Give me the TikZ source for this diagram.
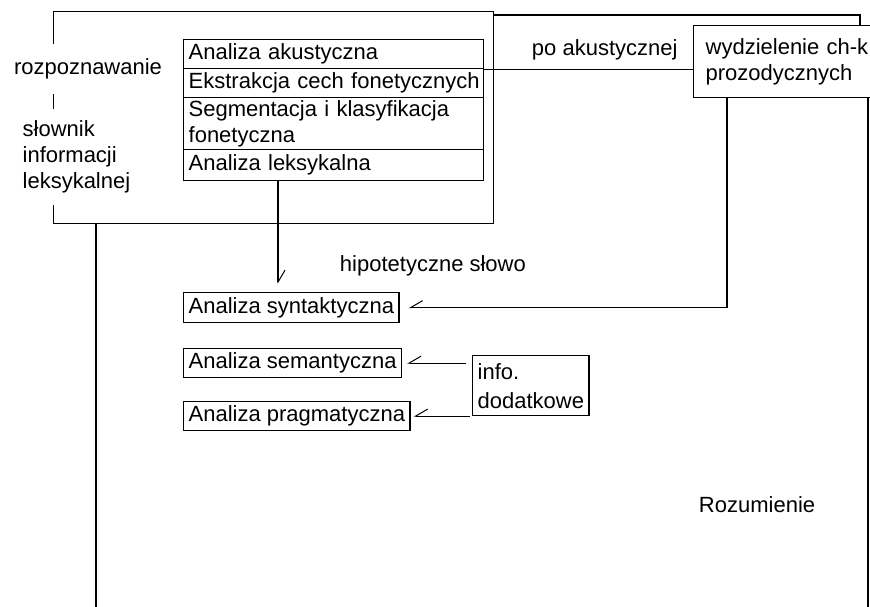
\documentclass[tikz,border=0pt]{standalone}
\usepackage{fontspec}
\setmainfont{Liberation Sans}
\usetikzlibrary{arrows.meta,calc}
\begin{document}
\begin{tikzpicture}[x=1pt, y=-1pt, line width=1.3pt,
  font=\fontsize{22}{27}\selectfont,
  frame/.style={draw, fill=white, rectangle, anchor=north west, inner sep=0pt},
  row/.style={draw, fill=white, rectangle, anchor=north west, minimum width=300pt,
    text width=290pt, inner xsep=5pt, inner ysep=0pt, align=left},
  stage/.style={draw, rectangle, anchor=north west, inner xsep=5pt, inner ysep=0pt},
  note/.style={draw, fill=white, rectangle, anchor=north west, align=left, inner ysep=0pt},
  cover/.style={fill=white, inner xsep=2pt},
  tipA/.style={-{Straight Barb[left, length=12pt, width=14pt, line width=1pt]}},
  tipB/.style={-{Straight Barb[right, length=12pt, width=14pt, line width=1pt]}},
]
\useasboundingbox (0,0) rectangle (870,607);
\clip (0,0) rectangle (870,607);

% outer frame of the understanding stage
\draw (860,60) -- (860,15) -- (96,15) -- (96,640);
\draw (868,60) -- (868,640);
\node[anchor=west] (rozum) at (695,505) {Rozumienie};

% recognition frame with its side labels
\node[frame, minimum width=440pt, minimum height=212pt] (rozp) at (53,11) {};
\node[cover, minimum height=50pt] (lrozp) at (88,69) {rozpoznawanie};
\node[cover, anchor=west, align=left, inner ysep=12pt, font=\fontsize{22}{26}\selectfont]
  (lslow) at (20,157) {słownik\\informacji\\leksykalnej};

% recognition steps
\node[row, minimum height=29pt] (r1) at (183,39) {Analiza akustyczna};
\node[row, minimum height=29pt] (r2) at (183,68) {\mbox{Ekstrakcja cech fonetycznych}};
\node[row, minimum height=52pt, font=\fontsize{22}{26}\selectfont] (r3) at (183,97) {Segmentacja i klasyfikacja\\fonetyczna};
\node[row, minimum height=31pt] (r4) at (183,149) {Analiza leksykalna};

% prosody box
\node[note, minimum width=215pt, minimum height=72pt, inner xsep=12pt, text width=191pt,
  font=\fontsize{22}{26}\selectfont] (wyd) at (693,25) {\mbox{wydzielenie ch-k}\\prozodycznych};
\node[anchor=west] (lpo) at (528,50) {po akustycznej};

% understanding steps
\node[stage, minimum height=30pt] (syn) at (183,292) {Analiza syntaktyczna};
\node[stage, minimum height=29pt] (sem) at (183,348) {Analiza semantyczna};
\node[stage, minimum height=29pt] (prag) at (183,401) {Analiza pragmatyczna};
\node[note, minimum width=116pt, minimum height=60pt, inner xsep=5pt,
  font=\fontsize{22}{29}\selectfont] (info) at (472,355) {info.\\dodatkowe};
\node[anchor=west] (lhip) at (336,266) {hipotetyczne słowo};

% connectors
\draw (r1.south east) -- (r1.south east -| wyd.west);
\path (r4.south west) ++(95,0) coordinate (p1);
\draw[tipA, shorten >=8pt] (p1) -- (p1 |- syn.north);
\path (wyd.south west) ++(34,0) coordinate (p2);
\draw[tipB, shorten >=9pt] (p2) |- (syn.east);
\draw[tipB, shorten <=6pt, shorten >=5pt] (info.west |- sem.east) -- (sem.east);
\draw[tipB, shorten <=2pt, shorten >=3pt] (info.west |- prag.east) -- (prag.east);
\end{tikzpicture}
\end{document}
